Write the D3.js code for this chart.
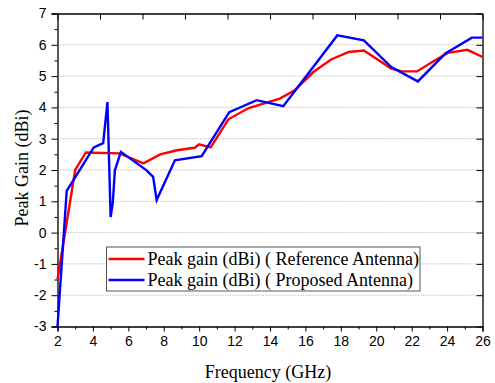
<!DOCTYPE html>
<html>
<head>
<meta charset="utf-8">
<script src="https://cdn.jsdelivr.net/npm/d3@7"></script>
<style>
  body { margin: 0; background: #fff; }
  svg { display: block; }
  .tick text { font-family: "Liberation Sans", Arial, sans-serif; font-size: 14px; fill: #000; }
  .serif { font-family: "Liberation Serif", "Times New Roman", serif; }
</style>
</head>
<body>
<svg id="chart" width="495" height="383"></svg>
<script>
// Reference antenna peak gain (red)
const refFreq = [2, 3, 3.6, 5.5, 6.85, 7.8, 8.75, 9.75, 10, 10.65, 11.65, 12.8, 14.55, 15.4, 16.45, 17.45, 18.45, 19.3, 20.85, 21.45, 22.3, 23.3, 24.05, 25.15, 26];
const refGain = [-1.5, 2.0, 2.56, 2.53, 2.21, 2.5, 2.63, 2.71, 2.82, 2.72, 3.62, 3.98, 4.28, 4.55, 5.13, 5.53, 5.77, 5.82, 5.24, 5.15, 5.15, 5.5, 5.74, 5.84, 5.61];

// Proposed antenna peak gain (blue)
const propFreq = [2, 2.52, 4.05, 4.58, 4.82, 5.0, 5.12, 5.24, 5.58, 7.03, 7.4, 7.6, 8.63, 10.14, 11.7, 13.25, 14.75, 17.8, 19.3, 20.85, 22.35, 23.9, 25.4, 26];
const propGain = [-3, 1.33, 2.72, 2.86, 4.17, 0.5, 0.93, 1.99, 2.58, 1.99, 1.78, 1.04, 2.31, 2.44, 3.85, 4.23, 4.04, 6.3, 6.14, 5.29, 4.83, 5.72, 6.23, 6.23];

const xTicks = [2, 4, 6, 8, 10, 12, 14, 16, 18, 20, 22, 24, 26];
const yTicks = [-3, -2, -1, 0, 1, 2, 3, 4, 5, 6, 7];

const seriesNames = ['Peak gain (dBi) ( Reference Antenna)', 'Peak gain (dBi) ( Proposed Antenna)'];
const seriesColors = ['#ff0000', '#0000ff'];

const margin = { top: 13.5, right: 12.5, bottom: 56.5, left: 57.5 },
      svg = d3.select('#chart'),
      width = +svg.attr('width') - margin.left - margin.right,
      height = +svg.attr('height') - margin.top - margin.bottom,
      g = svg.append('g').attr('transform', `translate(${margin.left}, ${margin.top})`);

const x = d3.scaleLinear().domain([2, 26]).range([0, width]),
      y = d3.scaleLinear().domain([-3, 7]).range([height, 0]);

// plain hyphen for negatives, like the original
const fmt = (d) => String(d);

// horizontal dotted grid
g.append('g')
  .selectAll('line')
  .data(yTicks.filter((d) => d > -3 && d < 7))
  .enter().append('line')
  .attr('x1', 0)
  .attr('x2', width)
  .attr('y1', (d) => y(d))
  .attr('y2', (d) => y(d))
  .attr('stroke', '#c4c4c4')
  .attr('stroke-width', 1)
  .attr('stroke-dasharray', '1.5,1');

// minor ticks
g.append('g')
  .attr('transform', `translate(0, ${height})`)
  .call(d3.axisBottom(x).tickValues(d3.range(3, 26, 2)).tickSize(3).tickFormat(''))
  .call((a) => a.select('.domain').remove());

g.append('g')
  .call(d3.axisLeft(y).tickValues(d3.range(-2.5, 7, 1)).tickSize(3).tickFormat(''))
  .call((a) => a.select('.domain').remove());

// major axes
g.append('g')
  .attr('transform', `translate(0, ${height})`)
  .call(d3.axisBottom(x).tickValues(xTicks).tickSize(5).tickPadding(5).tickFormat(fmt))
  .call((a) => a.select('.domain').attr('stroke-width', 1.3));

g.append('g')
  .call(d3.axisLeft(y).tickValues(yTicks).tickSize(6).tickPadding(5).tickFormat(fmt))
  .call((a) => a.select('.domain').attr('stroke-width', 1.3));

// mirrored top / right axes, ticks inward
g.append('g')
  .call(d3.axisTop(x).tickValues(d3.range(2, 26.01, 2.4)).tickSize(-6).tickFormat('').tickSizeOuter(0))
  .call((a) => a.select('.domain').attr('stroke-width', 1.3));

g.append('g')
  .attr('transform', `translate(${width}, 0)`)
  .call(d3.axisRight(y).tickValues(yTicks).tickSize(-6).tickFormat('').tickSizeOuter(0))
  .call((a) => a.select('.domain').attr('stroke-width', 1.3));

// curves
const line = d3.line()
  .x((d) => x(d[0]))
  .y((d) => y(d[1]));

const series = [
  d3.zip(refFreq, refGain),
  d3.zip(propFreq, propGain),
];

g.append('g')
  .selectAll('path')
  .data(series)
  .enter().append('path')
  .attr('d', line)
  .attr('fill', 'none')
  .attr('stroke', (d, i) => seriesColors[i])
  .attr('stroke-width', 2.4)
  .attr('stroke-linejoin', 'miter');

// axis titles
svg.append('text')
  .attr('class', 'serif')
  .attr('x', margin.left + width / 2 - 2)
  .attr('y', 378)
  .attr('text-anchor', 'middle')
  .attr('font-size', 18)
  .text('Frequency (GHz)');

svg.append('text')
  .attr('class', 'serif')
  .attr('transform', `translate(28, ${margin.top + height / 2 - 2}) rotate(-90)`)
  .attr('text-anchor', 'middle')
  .attr('font-size', 18)
  .text('Peak Gain (dBi)');

// legend
const legend = svg.append('g').attr('transform', 'translate(106.5, 247)');

legend.append('rect')
  .attr('width', 313.5)
  .attr('height', 44)
  .attr('fill', '#fff')
  .attr('stroke', '#555')
  .attr('stroke-width', 1);

const rows = legend.selectAll('g.row')
  .data(seriesNames)
  .enter().append('g')
  .attr('class', 'row')
  .attr('transform', (d, i) => `translate(0, ${12 + i * 21})`);

rows.append('line')
  .attr('x1', 2)
  .attr('x2', 38)
  .attr('stroke', (d, i) => seriesColors[i])
  .attr('stroke-width', 2.4);

rows.append('text')
  .attr('class', 'serif')
  .attr('x', 41)
  .attr('dy', '0.33em')
  .attr('font-size', 18)
  .text((d) => d);
</script>
</body>
</html>
